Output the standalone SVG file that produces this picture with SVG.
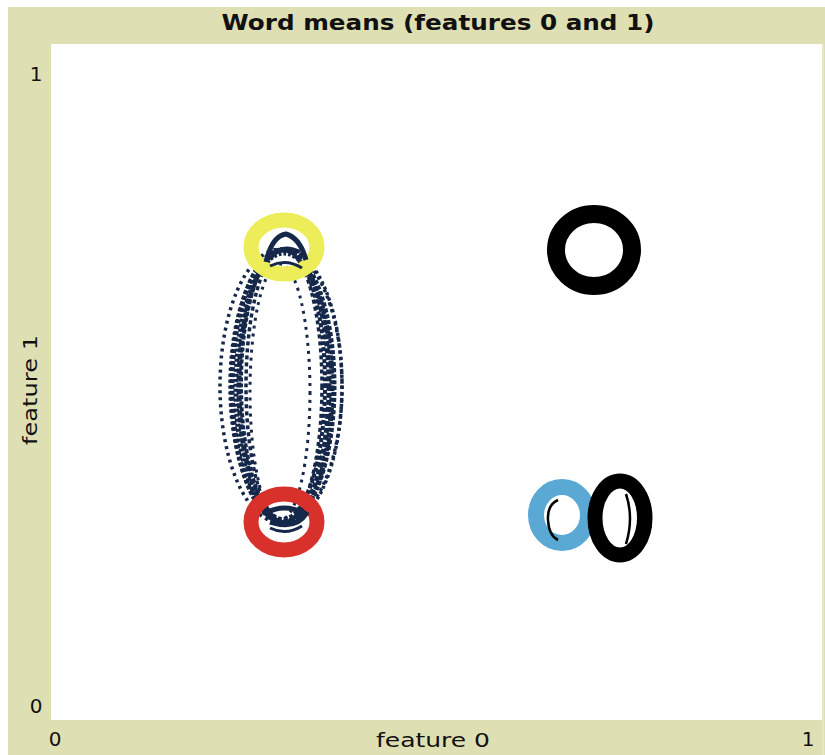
<svg xmlns="http://www.w3.org/2000/svg" width="825" height="755" viewBox="0 0 825 755">
<style>
.lbl{font-family:"DejaVu Sans","Liberation Sans",sans-serif;font-size:20px;fill:#111}
.ttl{font-family:"DejaVu Sans","Liberation Sans",sans-serif;font-size:21px;font-weight:bold;fill:#111}
.nv{fill:none;stroke:#16284a}
.ring{fill:none}
</style>
<rect width="825" height="755" fill="#ffffff"/>
<rect x="8" y="7" width="817" height="748" fill="#dfdfb4"/>
<rect x="51" y="44" width="771" height="676" fill="#ffffff"/>
<line x1="823" y1="44" x2="823" y2="755" stroke="#eeeed8" stroke-width="1"/>
<text class="ttl" x="438" y="30" text-anchor="middle" textLength="433" lengthAdjust="spacingAndGlyphs">Word means (features 0 and 1)</text>
<text class="lbl" x="36" y="81" text-anchor="middle">1</text>
<text class="lbl" x="36" y="713" text-anchor="middle">0</text>
<text class="lbl" x="55" y="746" text-anchor="middle">0</text>
<text class="lbl" x="808" y="746" text-anchor="middle">1</text>
<text class="lbl" x="433" y="747" text-anchor="middle" textLength="114" lengthAdjust="spacingAndGlyphs">feature 0</text>
<text class="lbl" transform="translate(37,390) rotate(-90)" text-anchor="middle" textLength="110" lengthAdjust="spacingAndGlyphs">feature 1</text>

<g id="connectors">
<ellipse class="nv" cx="281" cy="386" rx="61" ry="137" stroke-width="3.5" stroke-dasharray="3 4"/>
<ellipse class="nv" cx="286" cy="386" rx="56" ry="136" stroke-width="3.5" stroke-dasharray="3 3"/>
<ellipse class="nv" cx="283" cy="386" rx="51" ry="136" stroke-width="5" stroke-dasharray="4 2"/>
<ellipse class="nv" cx="284" cy="388" rx="48" ry="135" stroke-width="5" stroke-dasharray="3 2"/>
<ellipse class="nv" cx="284" cy="386" rx="45" ry="136" stroke-width="5" stroke-dasharray="5 2"/>
<ellipse class="nv" cx="283" cy="384" rx="42" ry="135" stroke-width="4" stroke-dasharray="4 2"/>
<ellipse class="nv" cx="284" cy="386" rx="38" ry="136" stroke-width="3.5" stroke-dasharray="4 3"/>
<ellipse class="nv" cx="280" cy="392" rx="30" ry="128" stroke-width="3" stroke-dasharray="3 5"/>
</g>

<g id="node-yellow">
<ellipse class="ring" cx="284" cy="247" rx="33" ry="27" stroke="#eded5a" stroke-width="15"/>
<path class="nv" d="M266,262 Q272,236 286,234 Q300,238 306,260" stroke-width="5"/>
<path class="nv" d="M272,254 Q284,244 300,252" stroke-width="4"/>
<path class="nv" d="M270,266 Q286,258 302,268" stroke-width="3"/>
</g>

<g id="node-red">
<ellipse class="ring" cx="284" cy="522" rx="33" ry="28" stroke="#d8302a" stroke-width="15"/>
<path class="nv" d="M264,514 Q284,502 306,514 Q296,530 270,522" stroke-width="5"/>
<path class="nv" d="M270,528 Q286,536 302,526" stroke-width="3"/>
</g>

<g id="node-black-top">
<ellipse class="ring" cx="594" cy="250" rx="38" ry="36" stroke="#000" stroke-width="18"/>
</g>

<g id="node-blue">
<ellipse class="ring" cx="562" cy="515" rx="26" ry="28" stroke="#5aa8d4" stroke-width="16"/>
<path d="M558,500 Q547,505 548,520 Q549,536 558,540" fill="none" stroke="#000" stroke-width="2.5"/>
</g>

<g id="node-black-bottom">
<ellipse class="ring" cx="620" cy="518" rx="25" ry="37" stroke="#000" stroke-width="15"/>
<ellipse class="ring" cx="617" cy="518" rx="22" ry="34" stroke="#000" stroke-width="4"/>
<path d="M626,494 Q634,518 626,544" fill="none" stroke="#000" stroke-width="2.5"/>
</g>
</svg>
